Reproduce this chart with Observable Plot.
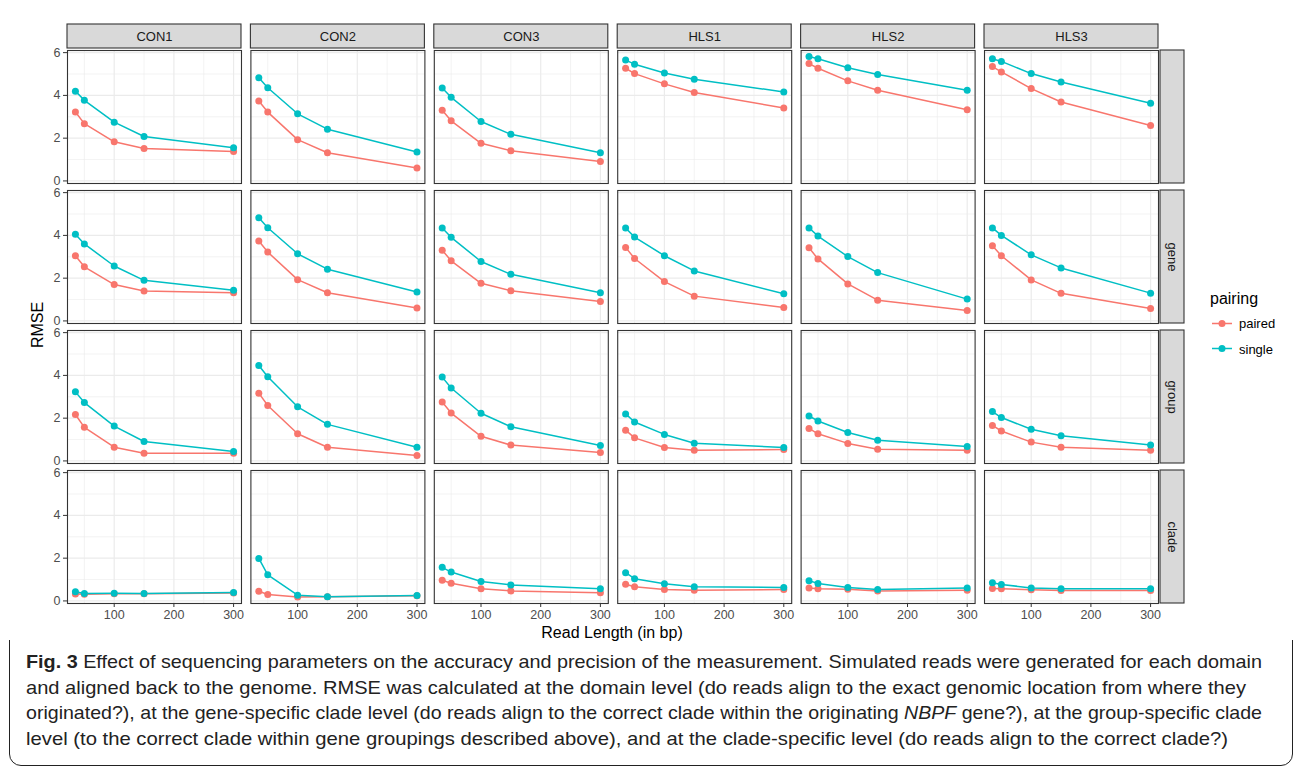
<!DOCTYPE html>
<html>
<head>
<meta charset="utf-8">
<script src="https://cdn.jsdelivr.net/npm/d3@7"></script>
<script src="https://cdn.jsdelivr.net/npm/@observablehq/plot@0.6"></script>
<style>
  html, body { margin: 0; padding: 0; background: #fff; }
  body { width: 1295px; height: 772px; position: relative; overflow: hidden; font-family: "Liberation Sans", Arial, sans-serif; }
  #chart { position: absolute; left: 0; top: 0; }
  #box { position: absolute; left: 9px; top: 8px; width: 1284px; height: 758px; border: 1.5px solid #222; border-radius: 12px; box-sizing: border-box; }
  .lbl { position: absolute; color: #000; font-size: 16px; white-space: nowrap; line-height: 1; }
  #ylab { left: 38px; top: 325px; transform: translate(-50%, -50%) rotate(-90deg); }
  #xlab { left: 612px; top: 633px; transform: translate(-50%, -50%); }
  #legtitle { left: 1210px; top: 299px; transform: translate(0, -50%); }
  .legitem { position: absolute; left: 1210px; display: flex; align-items: center; transform: translate(0, -50%); font-size: 13px; color: #000; white-space: nowrap; }
  .legitem svg { margin-right: 5px; }
  #caption { position: absolute; left: 26px; top: 649px; font-family: "Liberation Sans", Arial, sans-serif; font-size: 18.5px; line-height: 25.6px; color: #222; }
  #caption .line { white-space: nowrap; transform-origin: 0 50%; }
</style>
</head>
<body>
<div id="box"></div>
<div id="chart"></div>
<div class="lbl" id="ylab">RMSE</div>
<div class="lbl" id="xlab">Read Length (in bp)</div>
<div class="lbl" id="legtitle">pairing</div>
<div id="legend"></div>
<div id="caption">
  <div class="line"><b>Fig. 3</b> Effect of sequencing parameters on the accuracy and precision of the measurement. Simulated reads were generated for each domain</div>
  <div class="line">and aligned back to the genome. RMSE was calculated at the domain level (do reads align to the exact genomic location from where they</div>
  <div class="line">originated?), at the gene-specific clade level (do reads align to the correct clade within the originating <i>NBPF</i> gene?), at the group-specific clade</div>
  <div class="line">level (to the correct clade within gene groupings described above), and at the clade-specific level (do reads align to the correct clade?)</div>
</div>
<script>
// ---------- data ----------
const columns = ["CON1", "CON2", "CON3", "HLS1", "HLS2", "HLS3"];
const rows = ["domain", "gene", "group", "clade"];
const rowLabels = ["", "gene", "group", "clade"];
const readLengths = [35, 50, 100, 150, 300];
const pairings = ["paired", "single"];
const xTicks = [100, 200, 300];
const yTicks = [0, 2, 4, 6];

// values per column (CON1..HLS3), per read length
const domainPaired = [
  [3.22, 2.68, 1.83, 1.52, 1.38],
  [3.74, 3.22, 1.93, 1.32, 0.60],
  [3.31, 2.81, 1.76, 1.41, 0.91],
  [5.27, 5.02, 4.54, 4.14, 3.41],
  [5.49, 5.27, 4.68, 4.24, 3.33],
  [5.35, 5.10, 4.32, 3.69, 2.59]
];
const domainSingle = [
  [4.20, 3.77, 2.75, 2.08, 1.55],
  [4.82, 4.36, 3.14, 2.42, 1.35],
  [4.35, 3.91, 2.78, 2.18, 1.32],
  [5.65, 5.46, 5.05, 4.76, 4.16],
  [5.82, 5.71, 5.29, 4.98, 4.24],
  [5.71, 5.59, 5.02, 4.63, 3.63]
];
const genePaired = [
  [3.05, 2.53, 1.70, 1.40, 1.32],
  [3.74, 3.22, 1.93, 1.32, 0.60],
  [3.31, 2.81, 1.76, 1.41, 0.91],
  [3.44, 2.92, 1.84, 1.16, 0.63],
  [3.42, 2.90, 1.73, 0.97, 0.49],
  [3.52, 3.05, 1.92, 1.29, 0.58]
];
const geneSingle = [
  [4.05, 3.60, 2.57, 1.90, 1.43],
  [4.82, 4.36, 3.14, 2.42, 1.35],
  [4.35, 3.91, 2.78, 2.18, 1.32],
  [4.35, 3.92, 3.05, 2.34, 1.27],
  [4.35, 3.97, 3.01, 2.26, 1.02],
  [4.35, 4.00, 3.09, 2.48, 1.30]
];
const groupPaired = [
  [2.17, 1.57, 0.64, 0.36, 0.36],
  [3.17, 2.59, 1.27, 0.64, 0.25],
  [2.76, 2.24, 1.15, 0.74, 0.39],
  [1.44, 1.08, 0.63, 0.50, 0.53],
  [1.52, 1.27, 0.82, 0.55, 0.50],
  [1.66, 1.40, 0.88, 0.64, 0.50]
];
const groupSingle = [
  [3.23, 2.73, 1.63, 0.91, 0.44],
  [4.46, 3.94, 2.53, 1.71, 0.64],
  [3.92, 3.41, 2.23, 1.60, 0.72],
  [2.20, 1.82, 1.24, 0.83, 0.63],
  [2.10, 1.87, 1.33, 0.97, 0.68],
  [2.31, 2.03, 1.48, 1.18, 0.75]
];
const cladePaired = [
  [0.33, 0.31, 0.34, 0.34, 0.37],
  [0.45, 0.30, 0.18, 0.19, 0.24],
  [0.97, 0.83, 0.57, 0.47, 0.38],
  [0.78, 0.66, 0.53, 0.50, 0.53],
  [0.61, 0.57, 0.55, 0.46, 0.50],
  [0.58, 0.57, 0.52, 0.49, 0.49]
];
const cladeSingle = [
  [0.43, 0.35, 0.36, 0.35, 0.39],
  [1.99, 1.22, 0.27, 0.19, 0.25],
  [1.57, 1.35, 0.91, 0.75, 0.57],
  [1.32, 1.04, 0.80, 0.66, 0.63],
  [0.94, 0.82, 0.63, 0.53, 0.61],
  [0.85, 0.77, 0.61, 0.57, 0.57]
];
const colors = ["#F8766D", "#00BFC4"];

// ---------- build table ----------
const series = {
  domain: {paired: domainPaired, single: domainSingle},
  gene: {paired: genePaired, single: geneSingle},
  group: {paired: groupPaired, single: groupSingle},
  clade: {paired: cladePaired, single: cladeSingle}
};
const data = [];
for (const row of rows) for (const p of pairings) columns.forEach((col, ci) => {
  series[row][p][ci].forEach((v, i) => data.push({row, col, pairing: p, len: readLengths[i], rmse: v}));
});
const colStrips = columns.map(col => ({col, row: rows[0], label: col}));
const rowStrips = rows.map((row, i) => ({col: columns[columns.length - 1], row, label: rowLabels[i]}));

// ---------- layout ----------
const W = 1295, H = 640;
const mL = 67, mR = W - 1158, mT = 50, mB = H - 603;
const padX = 0.0513, padY = 0.05;
const fw = (W - mL - mR) / (columns.length - padX) * (1 - padX);
const fh = (H - mT - mB) / (rows.length - padY) * (1 - padY);

const xDomain = [21.75, 313.25];
const yDomain = [-0.12, 6.1];

const chart = Plot.plot({
  width: W, height: H,
  marginLeft: mL, marginRight: mR, marginTop: mT, marginBottom: mB,
  style: {fontFamily: "Liberation Sans, Arial, sans-serif", fontSize: "12.5px", color: "#4d4d4d", background: "white"},
  x: {domain: xDomain, label: null},
  y: {domain: yDomain, label: null},
  fx: {domain: columns, paddingInner: padX, paddingOuter: 0, round: false, axis: null, label: null},
  fy: {domain: rows, paddingInner: padY, paddingOuter: 0, round: false, axis: null, label: null},
  color: {domain: pairings, range: colors},
  marks: [
    Plot.gridY([1, 3, 5], {stroke: "#ebebeb", strokeOpacity: 1, strokeWidth: 0.6}),
    Plot.gridX([50, 150, 250], {stroke: "#ebebeb", strokeOpacity: 1, strokeWidth: 0.6}),
    Plot.gridY(yTicks, {stroke: "#ebebeb", strokeOpacity: 1, strokeWidth: 1.2}),
    Plot.gridX(xTicks, {stroke: "#ebebeb", strokeOpacity: 1, strokeWidth: 1.2}),
    Plot.line(data, {x: "len", y: "rmse", z: "pairing", stroke: "pairing", fx: "col", fy: "row", strokeWidth: 1.5}),
    Plot.dot(data, {x: "len", y: "rmse", fill: "pairing", fx: "col", fy: "row", r: 3.5}),
    Plot.frame({stroke: "#333", strokeWidth: 1.1}),
    Plot.rect(colStrips, {fx: "col", fy: "row", fill: "#d9d9d9", stroke: "#333", strokeWidth: 1.1, insetTop: -26, insetBottom: fh + 2}),
    Plot.text(colStrips, {fx: "col", fy: "row", text: "label", frameAnchor: "top", lineAnchor: "middle", dy: -14, fill: "#1a1a1a", fontSize: 13}),
    Plot.rect(rowStrips, {fx: "col", fy: "row", fill: "#d9d9d9", stroke: "#333", strokeWidth: 1.1, insetLeft: fw + 2, insetRight: -26}),
    Plot.text(rowStrips, {fx: "col", fy: "row", text: "label", frameAnchor: "right", textAnchor: "middle", lineAnchor: "middle", dx: 14, rotate: 90, fill: "#1a1a1a", fontSize: 13}),
    Plot.axisY({ticks: yTicks, tickFormat: d => String(d), tickSize: 4, tickPadding: 3, label: null, stroke: "#333", fill: "#4d4d4d"}),
    Plot.axisX({ticks: xTicks, tickFormat: d => String(d), tickSize: 4, tickPadding: 3, label: null, stroke: "#333", fill: "#4d4d4d"})
  ]
});
document.getElementById("chart").appendChild(chart);

// ---------- legend ----------
const legendY = [323, 348.5];
document.getElementById("legend").innerHTML = pairings.map((p, i) =>
  `<div class="legitem" style="top:${legendY[i]}px"><svg width="24" height="12"><line x1="2" x2="22" y1="6" y2="6" stroke="${colors[i]}" stroke-width="1.5"/><circle cx="12" cy="6" r="3.5" fill="${colors[i]}"/></svg><span>${p}</span></div>`
).join("");

// ---------- caption: condense each line to the reference's line width ----------
const lineWidths = [1236, 1220, 1236, 1202];
document.querySelectorAll("#caption .line").forEach((l, i) => {
  l.style.display = "inline-block";
  const natural = l.getBoundingClientRect().width;
  l.style.display = "block";
  l.style.transform = `scaleX(${lineWidths[i] / natural})`;
});
</script>
</body>
</html>
